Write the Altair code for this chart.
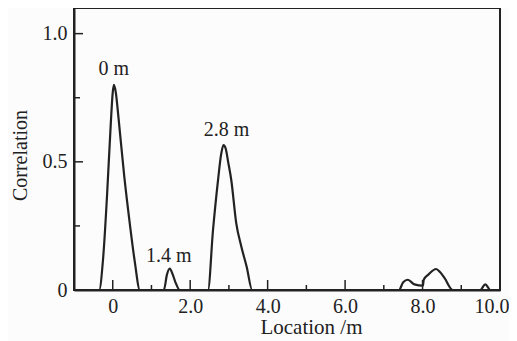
import altair as alt
import pandas as pd

# Curve
loc = [-1.0, -0.35, -0.25, -0.15, -0.05, 0.0, 0.03, 0.08, 0.15, 0.30, 0.44, 0.57, 0.70,
       1.32, 1.40, 1.47, 1.55, 1.62, 1.73,
       2.46, 2.59, 2.72, 2.80, 2.86, 2.92, 2.98, 3.06, 3.19, 3.32, 3.46, 3.60,
       7.39, 7.50, 7.62, 7.79, 8.01, 8.03, 8.15, 8.35, 8.45, 8.57, 8.78,
       9.49, 9.62, 9.75, 10.0]
corr = [0, 0, 0.12, 0.36, 0.65, 0.77, 0.80, 0.77, 0.67, 0.44, 0.26, 0.11, 0,
        0, 0.06, 0.083, 0.06, 0.03, 0,
        0, 0.235, 0.43, 0.53, 0.565, 0.55, 0.50, 0.43, 0.26, 0.17, 0.09, 0,
        0, 0.03, 0.04, 0.022, 0.017, 0.04, 0.06, 0.082, 0.07, 0.046, 0,
        0, 0.022, 0, 0]

x_major = [0, 2, 4, 6, 8, 10]
x_minor = [1, 3, 5, 7, 9]
y_major = [0, 0.5, 1.0]
y_minor = [0.25, 0.75]

ann_text = ["0 m", "1.4 m", "2.8 m"]
ann_x = [0.03, 1.45, 2.94]
ann_y = [0.84, 0.111, 0.60]

W, H = 426, 282
FONT = "Liberation Serif"
INK = "#222222"

curve = pd.DataFrame({"loc": loc, "corr": corr})
xs = alt.Scale(domain=[-1, 10], nice=False, zero=False)
ys = alt.Scale(domain=[0, 1.1], nice=False)

line = alt.Chart(curve).mark_line(color=INK, strokeWidth=2.2, interpolate="monotone").encode(
    x=alt.X("loc:Q", scale=xs,
            axis=alt.Axis(values=x_major, title="Location /m", ticks=False, grid=False,
                          labelExpr="datum.value == 0 ? '0' : format(datum.value, '.1f')",
                          labelFont=FONT, labelFontSize=20, labelColor=INK, labelPadding=6,
                          titleFont=FONT, titleFontSize=21, titleFontWeight="normal", titleColor=INK,
                          titleX=237, titleY=43, titleBaseline="alphabetic", titleAlign="center",
                          domainColor=INK, domainWidth=2,
                          labelFlush=True, labelFlushOffset=9)),
    y=alt.Y("corr:Q", scale=ys,
            axis=alt.Axis(values=y_major, title="Correlation", ticks=False, grid=False,
                          labelExpr="datum.value == 0 ? '0' : format(datum.value, '.1f')",
                          labelFont=FONT, labelFontSize=20, labelColor=INK, labelPadding=7,
                          titleFont=FONT, titleFontSize=20, titleFontWeight="normal", titleColor=INK,
                          titleX=-48, titleY=147, titleBaseline="alphabetic", titleAlign="center",
                          titleAngle=-90,
                          domainColor=INK, domainWidth=2, labelFlush=False)),
)

xmaj = alt.Chart(pd.DataFrame({"t": x_major})).mark_rule(color=INK, strokeWidth=1.5).encode(
    x=alt.X("t:Q", scale=xs), y=alt.value(H), y2=alt.value(H - 10))
xmin = alt.Chart(pd.DataFrame({"t": x_minor})).mark_rule(color=INK, strokeWidth=1.5).encode(
    x=alt.X("t:Q", scale=xs), y=alt.value(H), y2=alt.value(H - 5))
ymaj = alt.Chart(pd.DataFrame({"t": y_major})).mark_rule(color=INK, strokeWidth=1.5).encode(
    y=alt.Y("t:Q", scale=ys), x=alt.value(0), x2=alt.value(9))
ymin = alt.Chart(pd.DataFrame({"t": y_minor})).mark_rule(color=INK, strokeWidth=1.5).encode(
    y=alt.Y("t:Q", scale=ys), x=alt.value(0), x2=alt.value(6))

ann = alt.Chart(pd.DataFrame({"x": ann_x, "y": ann_y, "text": ann_text})).mark_text(
    font=FONT, fontSize=20, color=INK, align="center", baseline="alphabetic").encode(
    x=alt.X("x:Q", scale=xs), y=alt.Y("y:Q", scale=ys), text="text:N")

chart = alt.layer(line, xmaj, xmin, ymaj, ymin, ann).properties(
    width=W, height=H, autosize="none",
    padding={"left": 66, "top": 0, "right": 9, "bottom": 51},
    background="#fcfcfc",
).configure_view(stroke=INK, strokeWidth=2)

chart.save("out.html", embed_options={"renderer": "svg", "actions": False})
